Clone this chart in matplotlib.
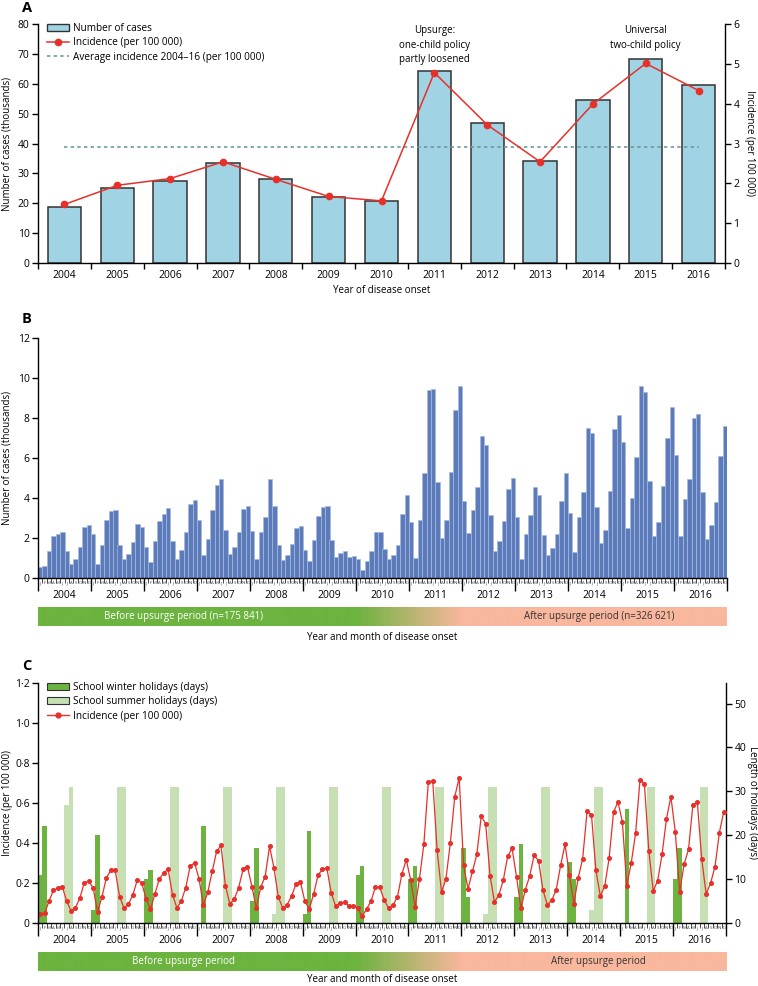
import numpy as np
import matplotlib.pyplot as plt
from matplotlib.patches import Patch
from matplotlib.lines import Line2D
from matplotlib.ticker import FuncFormatter

plt.rcParams['font.family'] = ['Open Sans', 'DejaVu Sans']
plt.rcParams['font.size'] = 7.0
plt.rcParams['xtick.labelsize'] = 7.5
plt.rcParams['ytick.labelsize'] = 7.5
plt.rcParams['axes.linewidth'] = 1.0
plt.rcParams['xtick.major.width'] = 1.0
plt.rcParams['ytick.major.width'] = 1.0

# ---- data ----
YEARS = list(range(2004, 2017))
CASES_K = [18.8, 25.2, 27.6, 33.5, 28.1, 22.1, 20.8, 64.2, 46.7, 34.3, 54.6, 68.4, 59.7]
INCIDENCE_YEAR = [1.47, 1.95, 2.12, 2.54, 2.10, 1.67, 1.56, 4.78, 3.47, 2.54, 3.99, 5.01, 4.33]
AVG_INCIDENCE = 2.90

MONTH_LETTERS = ["J", "F", "M", "A", "M", "J", "J", "A", "S", "O", "N", "D"]

MONTHLY_CASES_K = [
    0.55, 0.58, 1.35, 2.09, 2.22, 2.31, 1.34, 0.72, 0.97, 1.56, 2.54, 2.66,  # 2004
    2.21, 0.70, 1.64, 2.91, 3.36, 3.39, 1.67, 0.94, 1.19, 1.79, 2.68, 2.54,  # 2005
    1.54, 0.80, 1.85, 2.83, 3.20, 3.48, 1.85, 0.97, 1.40, 2.28, 3.68, 3.88,  # 2006
    2.89, 1.17, 1.94, 3.39, 4.65, 4.95, 2.39, 1.19, 1.57, 2.31, 3.44, 3.61,  # 2007
    2.36, 0.97, 2.31, 3.03, 4.95, 3.60, 1.64, 0.92, 1.14, 1.72, 2.52, 2.61,  # 2008
    1.39, 0.84, 1.89, 3.09, 3.53, 3.60, 1.92, 1.04, 1.24, 1.34, 1.07, 1.10,  # 2009
    0.97, 0.42, 0.87, 1.37, 2.31, 2.31, 1.45, 0.95, 1.17, 1.67, 3.19, 4.13,  # 2010
    2.78, 1.02, 2.89, 5.25, 9.38, 9.45, 4.82, 2.02, 2.91, 5.30, 8.38, 9.58,  # 2011
    3.83, 2.26, 3.41, 4.55, 7.11, 6.64, 3.13, 1.37, 1.87, 2.84, 4.43, 4.98,  # 2012
    3.06, 0.97, 2.22, 3.14, 4.53, 4.15, 2.16, 1.14, 1.49, 2.19, 3.83, 5.23,  # 2013
    3.23, 1.30, 3.03, 4.30, 7.49, 7.24, 3.53, 1.76, 2.42, 4.35, 7.44, 8.14,  # 2014
    6.81, 2.51, 4.01, 6.04, 9.62, 9.30, 4.87, 2.12, 2.81, 4.58, 7.01, 8.53,  # 2015
    6.15, 2.09, 3.95, 4.95, 7.99, 8.18, 4.28, 1.94, 2.63, 3.78, 6.09, 7.61,  # 2016
]

MONTHLY_INCIDENCE = [
    0.045, 0.048, 0.109, 0.164, 0.174, 0.182, 0.109, 0.060, 0.077, 0.125, 0.202, 0.209,
    0.176, 0.057, 0.130, 0.226, 0.263, 0.264, 0.132, 0.075, 0.094, 0.140, 0.214, 0.202,
    0.122, 0.069, 0.145, 0.219, 0.251, 0.269, 0.142, 0.075, 0.110, 0.177, 0.284, 0.301,
    0.222, 0.090, 0.154, 0.258, 0.358, 0.388, 0.186, 0.095, 0.119, 0.177, 0.268, 0.281,
    0.182, 0.075, 0.179, 0.232, 0.383, 0.276, 0.129, 0.074, 0.092, 0.134, 0.196, 0.204,
    0.110, 0.069, 0.145, 0.239, 0.269, 0.274, 0.149, 0.084, 0.100, 0.105, 0.085, 0.087,
    0.074, 0.033, 0.070, 0.109, 0.179, 0.179, 0.115, 0.074, 0.090, 0.130, 0.244, 0.316,
    0.216, 0.079, 0.221, 0.396, 0.704, 0.712, 0.365, 0.154, 0.221, 0.401, 0.632, 0.726,
    0.289, 0.171, 0.258, 0.343, 0.533, 0.497, 0.236, 0.105, 0.140, 0.214, 0.334, 0.373,
    0.231, 0.074, 0.167, 0.236, 0.339, 0.311, 0.164, 0.090, 0.114, 0.166, 0.288, 0.393,
    0.241, 0.097, 0.227, 0.321, 0.559, 0.540, 0.264, 0.135, 0.184, 0.324, 0.554, 0.605,
    0.507, 0.187, 0.299, 0.448, 0.716, 0.697, 0.361, 0.161, 0.211, 0.343, 0.520, 0.632,
    0.457, 0.156, 0.294, 0.368, 0.592, 0.605, 0.318, 0.145, 0.199, 0.281, 0.452, 0.557,
]

# school holidays per year (days)
WINTER_JAN = [11, 3, 10, 0, 5, 2, 11, 10, 17, 6, 14, 0, 10]
WINTER_FEB = [22, 20, 12, 22, 17, 21, 13, 13, 6, 18, 10, 26, 17]
SUMMER_JUN = [0, 0, 0, 0, 2, 0, 0, 0, 2, 0, 3, 0, 0]
SUMMER_JUL = [27, 31, 31, 31, 31, 31, 31, 31, 31, 31, 31, 31, 31]
SUMMER_AUG = [31] * 13

C_BAR_A = "#a0d4e4"
C_RED = "#e8302a"
C_DASH = "#6f9a9c"
C_BAR_B = "#5b7bbb"
C_WINTER = "#6cb33f"
C_SUMMER = "#c6dfb3"
C_GREEN = np.array([108, 179, 63]) / 255
C_SALMON = np.array([249, 183, 157]) / 255

W, H = 758, 986


def box(x0, y0, x1, y1):
    return [x0 / W, 1 - y1 / H, (x1 - x0) / W, (y1 - y0) / H]


def month_axis(ax):
    n = len(YEARS) * 12
    ax.set_xlim(0, n)
    ax.set_xticks(np.arange(0, n + 1, 12))
    ax.set_xticks(np.arange(0, n + 1), minor=True)
    ax.tick_params(axis='x', which='major', length=9, width=1.0, labelbottom=False)
    ax.tick_params(axis='x', which='minor', length=3.5, width=0.5)
    tr = ax.get_xaxis_transform()
    for i in range(n):
        ax.text(i + 0.5, -0.014, MONTH_LETTERS[i % 12], transform=tr, ha='center',
                va='top', fontsize=3.2, color='#444444')
    for i, yr in enumerate(YEARS):
        ax.text(12 * i + 6, -0.072, str(yr), transform=tr, ha='center', va='center',
                fontsize=7.5)


def period_bar(rect, left_label, right_label):
    ax = fig.add_axes(rect)
    n = len(YEARS) * 12
    xs = np.linspace(0, n, 800)
    t = np.clip((xs - 72) / (96 - 72), 0, 1)[:, None]
    rgb = (1 - t) * C_GREEN + t * C_SALMON
    ax.imshow(rgb[None, :, :], extent=(0, n, 0, 1), aspect='auto')
    ax.set_xlim(0, n)
    ax.set_ylim(0, 1)
    ax.axis('off')
    ax.text(33, 0.5, left_label, color='white', ha='center', va='center')
    ax.text(127, 0.5, right_label, color='#333333', ha='center', va='center')


fig = plt.figure(figsize=(W / 100, H / 100), dpi=100)

# ---- panel A ----
axA = fig.add_axes(box(38, 24, 725, 263))
x = np.arange(len(YEARS))
axA.bar(x, CASES_K, width=0.63, color=C_BAR_A, edgecolor='#333333', lw=1.1, zorder=2)
axA.set_xlim(-0.5, len(YEARS) - 0.5)
axA.set_ylim(0, 80)
axA.set_yticks(range(0, 81, 10))
axA.set_xticks(np.arange(-0.5, len(YEARS), 1))
axA.set_xticks(x, minor=True)
axA.set_xticklabels([])
axA.set_xticklabels([str(y) for y in YEARS], minor=True)
axA.tick_params(axis='x', which='minor', length=0, pad=5)
axA.tick_params(axis='x', which='major', length=4)
axA.tick_params(axis='y', length=4, pad=2)
axA.spines[['top', 'right']].set_visible(False)
axA.set_ylabel("Number of cases (thousands)")
axA.yaxis.set_label_coords(-0.037, 0.5)
axA.set_xlabel("Year of disease onset", labelpad=3)

axA2 = axA.twinx()
axA2.plot(x, INCIDENCE_YEAR, color=C_RED, marker='o', ms=4.5, lw=1.1, zorder=3)
axA2.plot([x[0], x[-1]], [AVG_INCIDENCE] * 2, ls=(0, (2, 2)), color=C_DASH, lw=1.2)
axA2.set_ylim(0, 6)
axA2.spines[['top', 'left', 'bottom']].set_visible(False)
axA2.tick_params(axis='y', length=4, pad=2)
axA2.set_ylabel("Incidence (per 100 000)", rotation=270, va='bottom')
axA2.yaxis.set_label_coords(1.027, 0.5)

axA.text(7, 79.5, "Upsurge:\none-child policy\npartly loosened", ha='center', va='top',
         linespacing=1.4)
axA.text(11, 79.5, "Universal\ntwo-child policy", ha='center', va='top', linespacing=1.4)

legA = [Patch(facecolor=C_BAR_A, edgecolor='#333333', lw=1.0, label="Number of cases"),
        Line2D([], [], color=C_RED, marker='o', ms=4.5, lw=1.1, label="Incidence (per 100 000)"),
        Line2D([], [], color=C_DASH, ls=(0, (2, 2)), lw=1.2,
               label="Average incidence 2004–16 (per 100 000)")]
axA.legend(handles=legA, loc='upper left', bbox_to_anchor=(0.005, 1.03), frameon=False,
           handlelength=2.2, handletextpad=0.4, labelspacing=0.35, borderaxespad=0.2,
           fontsize=7.2)

# ---- panel B ----
axB = fig.add_axes(box(38, 338, 727, 578))
months = np.arange(len(MONTHLY_CASES_K))
axB.bar(months, MONTHLY_CASES_K, width=1, align='edge', color=C_BAR_B,
        edgecolor='#a7b9de', lw=0.5)
axB.set_ylim(0, 12)
axB.set_yticks(range(0, 13, 2))
axB.tick_params(axis='y', length=4, pad=2)
axB.spines[['top', 'right']].set_visible(False)
month_axis(axB)
axB.set_ylabel("Number of cases (thousands)")
axB.yaxis.set_label_coords(-0.037, 0.5)
period_bar(box(38, 607, 727, 626), "Before upsurge period (n=175 841)",
           "After upsurge period (n=326 621)")
fig.text((38 + 727) / 2 / W, 1 - 637 / H, "Year and month of disease onset",
         ha='center', va='center')

# ---- panel C ----
axC = fig.add_axes(box(38, 683, 726, 923))
axC2 = axC.twinx()
yr0 = np.arange(len(YEARS)) * 12
axC2.bar(yr0 + 0, WINTER_JAN, width=1, align='edge', color=C_WINTER, lw=0)
axC2.bar(yr0 + 1, WINTER_FEB, width=1, align='edge', color=C_WINTER, lw=0)
axC2.bar(yr0 + 5, SUMMER_JUN, width=1, align='edge', color=C_SUMMER, lw=0)
axC2.bar(yr0 + 6, SUMMER_JUL, width=1, align='edge', color=C_SUMMER, lw=0)
axC2.bar(yr0 + 7, SUMMER_AUG, width=1, align='edge', color=C_SUMMER, lw=0)
axC2.set_ylim(0, 54.7)
axC2.set_yticks(range(0, 51, 10))
axC2.tick_params(axis='y', length=4, pad=2)
axC2.spines[['top', 'left', 'bottom']].set_visible(False)
axC2.set_ylabel("Length of holidays (days)", rotation=270, va='bottom')
axC2.yaxis.set_label_coords(1.031, 0.5)

axC.set_zorder(axC2.get_zorder() + 1)
axC.patch.set_visible(False)
axC.plot(months + 0.5, MONTHLY_INCIDENCE, color=C_RED, marker='o', ms=2.6, lw=0.9)
axC.set_ylim(0, 1.2)
axC.set_yticks(np.arange(0, 1.21, 0.2))
axC.yaxis.set_major_formatter(FuncFormatter(lambda v, p: "0" if v == 0 else f"{v:.1f}".replace(".", "·")))
axC.tick_params(axis='y', length=4, pad=2)
axC.spines[['top', 'right']].set_visible(False)
month_axis(axC)
axC.set_ylabel("Incidence (per 100 000)")
axC.yaxis.set_label_coords(-0.037, 0.5)

legC = [Patch(facecolor=C_WINTER, edgecolor='#333333', lw=0.8, label="School winter holidays (days)"),
        Patch(facecolor=C_SUMMER, edgecolor='#333333', lw=0.8, label="School summer holidays (days)"),
        Line2D([], [], color=C_RED, marker='o', ms=3.5, lw=1.0, label="Incidence (per 100 000)")]
axC.legend(handles=legC, loc='upper left', bbox_to_anchor=(0.005, 1.03), frameon=False,
           handlelength=2.2, handletextpad=0.4, labelspacing=0.35, borderaxespad=0.2,
           fontsize=7.2)

period_bar(box(38, 952, 727, 971), "Before upsurge period", "After upsurge period")
fig.text((38 + 727) / 2 / W, 1 - 980 / H, "Year and month of disease onset",
         ha='center', va='center')

# panel letters
for lab, ytop in [("A", 1), ("B", 312), ("C", 659)]:
    fig.text(22 / W, 1 - ytop / H, lab, fontsize=10.5, fontweight='bold', va='top')

fig.savefig("out.png", dpi=100)
